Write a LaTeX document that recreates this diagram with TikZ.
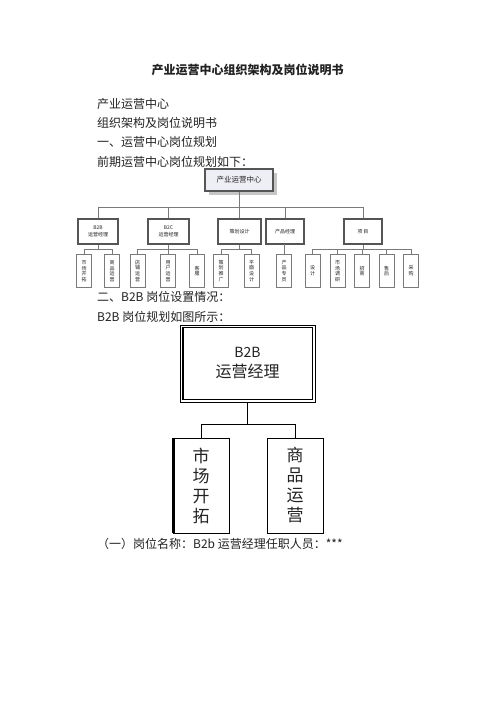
\documentclass[tikz,border=0pt]{standalone}
\usepackage{fontspec}
\setmainfont{Noto Sans CJK SC}
\usetikzlibrary{shadows}
\definecolor{txt}{HTML}{222222}
\definecolor{linegray}{HTML}{7A7A7A}
\definecolor{boxdark}{HTML}{555555}
\definecolor{topfill}{HTML}{EEEEF5}
\begin{document}
\begin{tikzpicture}[x=1pt,y=-1pt,
  body/.style={anchor=west, inner sep=0pt, text=txt, font=\fontsize{12}{14}\selectfont},
  topbox/.style={draw=boxdark, line width=1.2pt, fill=topfill, minimum width=68pt, minimum height=22pt, inner sep=0pt, text=txt, font=\fontsize{7.5}{9}\selectfont,
     drop shadow={shadow xshift=4pt, shadow yshift=-4pt, fill=gray!45, opacity=1}},
  lvtwo/.style={draw=boxdark, line width=1.5pt, fill=white, minimum height=25pt, inner sep=0pt, align=center, text=txt, font=\fontsize{5}{6.5}\selectfont},
  lvthree/.style={draw=linegray, line width=0.6pt, fill=white, minimum width=15pt, minimum height=33pt, inner sep=0pt, align=center, text=txt, font=\fontsize{5}{5.8}\selectfont},
  conn/.style={draw=linegray, line width=0.7pt},
  bigconn/.style={draw=black, line width=0.9pt},
  vbox/.style={draw=black, line width=0.8pt, minimum width=56pt, minimum height=95pt, inner sep=0pt, align=center, text=txt, font=\fontsize{17}{20}\selectfont}
]
\useasboundingbox (0,0) rectangle (496,702);
\fill[white] (0,0) rectangle (496,702);

% texts
\node[anchor=center, inner sep=0pt, text=txt, font=\fontsize{12}{14}\selectfont\bfseries] (title) at (247.5,70) {产业运营中心组织架构及岗位说明书};
\node[body] (t1) at (97,104) {产业运营中心};
\node[body] (t2) at (97,123) {组织架构及岗位说明书};
\node[body] (t3) at (97,142) {一、运营中心岗位规划};
\node[body] (t4) at (97,162) {前期运营中心岗位规划如下：};
\node[body] (t5) at (97,297) {二、B2B 岗位设置情况：};
\node[body] (t6) at (97,317) {B2B 岗位规划如图所示：};
\node[body] (t7) at (97,544) {（一）岗位名称：B2b 运营经理任职人员：***};

% chart 1 bus coordinates
\coordinate (busA) at (0,207);
\coordinate (busB) at (0,249);

% level-2 and level-3 nodes
\node[lvtwo, minimum width=40pt] (b2b) at (98,231.5) {B2B\\运营经理};
\node[lvtwo, minimum width=41pt] (b2c) at (168.5,231.5) {B2C\\运营经理};
\node[lvtwo, minimum width=43pt] (chd) at (239.5,231.5) {策划设计};
\node[lvtwo, minimum width=38pt] (cpm) at (285,231.5) {产品经理};
\node[lvtwo, minimum width=38pt] (xm) at (363,231.5) {项\,目};

\node[lvthree] (a1) at (84,271) {市\\场\\开\\拓};
\node[lvthree] (a2) at (112,271) {商\\品\\运\\营};
\node[lvthree] (c1) at (137.5,271) {店\\铺\\运\\营};
\node[lvthree] (c2) at (168,271) {用\\户\\运\\营};
\node[lvthree] (c3) at (197,271) {客\\服};
\node[lvthree] (d1) at (221,271) {策\\划\\推\\广};
\node[lvthree] (d2) at (251.5,271) {平\\面\\设\\计};
\node[lvthree] (p1) at (284,271) {产\\品\\专\\员};
\node[lvthree] (x1) at (312.5,271) {设\\计};
\node[lvthree] (x2) at (337.5,271) {市\\场\\调\\研};
\node[lvthree] (x3) at (362,271) {招\\商};
\node[lvthree] (x4) at (386.5,271) {售\\后};
\node[lvthree] (x5) at (411,271) {采\\购};

% connectors chart 1
\node[topbox] (top) at (239,180) {产业运营中心};
\foreach \c in {b2b,b2c,chd,cpm,xm}
  \draw[conn] (top.south) -- (top.south |- busA) -| (\c.north);
\foreach \p/\c in {b2b/a1,b2b/a2,b2c/c1,b2c/c2,b2c/c3,chd/d1,chd/d2,xm/x1,xm/x2,xm/x3,xm/x4,xm/x5}
  \draw[conn] (\p.south) -- (\p.south |- busB) -| (\c.north);
\draw[conn] (cpm.south) -- (cpm.south -| p1.north) -- (p1.north);

% chart 2
\node[draw=black, line width=0.8pt, minimum width=135pt, minimum height=77pt, inner sep=0pt, align=center, text=txt, font=\fontsize{16}{20}\selectfont] (mgr) at (247.5,363.5) {{\fontsize{14}{16}\selectfont B2B}\\运营经理};
\draw[black, line width=1.3pt] ([shift={(3,3)}]mgr.north west) rectangle ([shift={(-3,-3)}]mgr.south east);
\draw[black, line width=2.5pt] ([shift={(3.5,3)}]mgr.north west) -- ([shift={(3.5,-3)}]mgr.south west);
\coordinate (busC) at (0,424);
\node[vbox] (m1) at (201,485.5) {市\\场\\开\\拓};
\node[vbox] (m2) at (295,485.5) {商\\品\\运\\营};
\draw[black, line width=2.5pt] ([xshift=1pt]m1.north west) -- ([xshift=1pt]m1.south west);
\draw[bigconn] (mgr.south) -- (mgr.south |- busC) -| (m1.north);
\draw[bigconn] (mgr.south) -- (mgr.south |- busC) -| (m2.north);
\end{tikzpicture}
\end{document}
